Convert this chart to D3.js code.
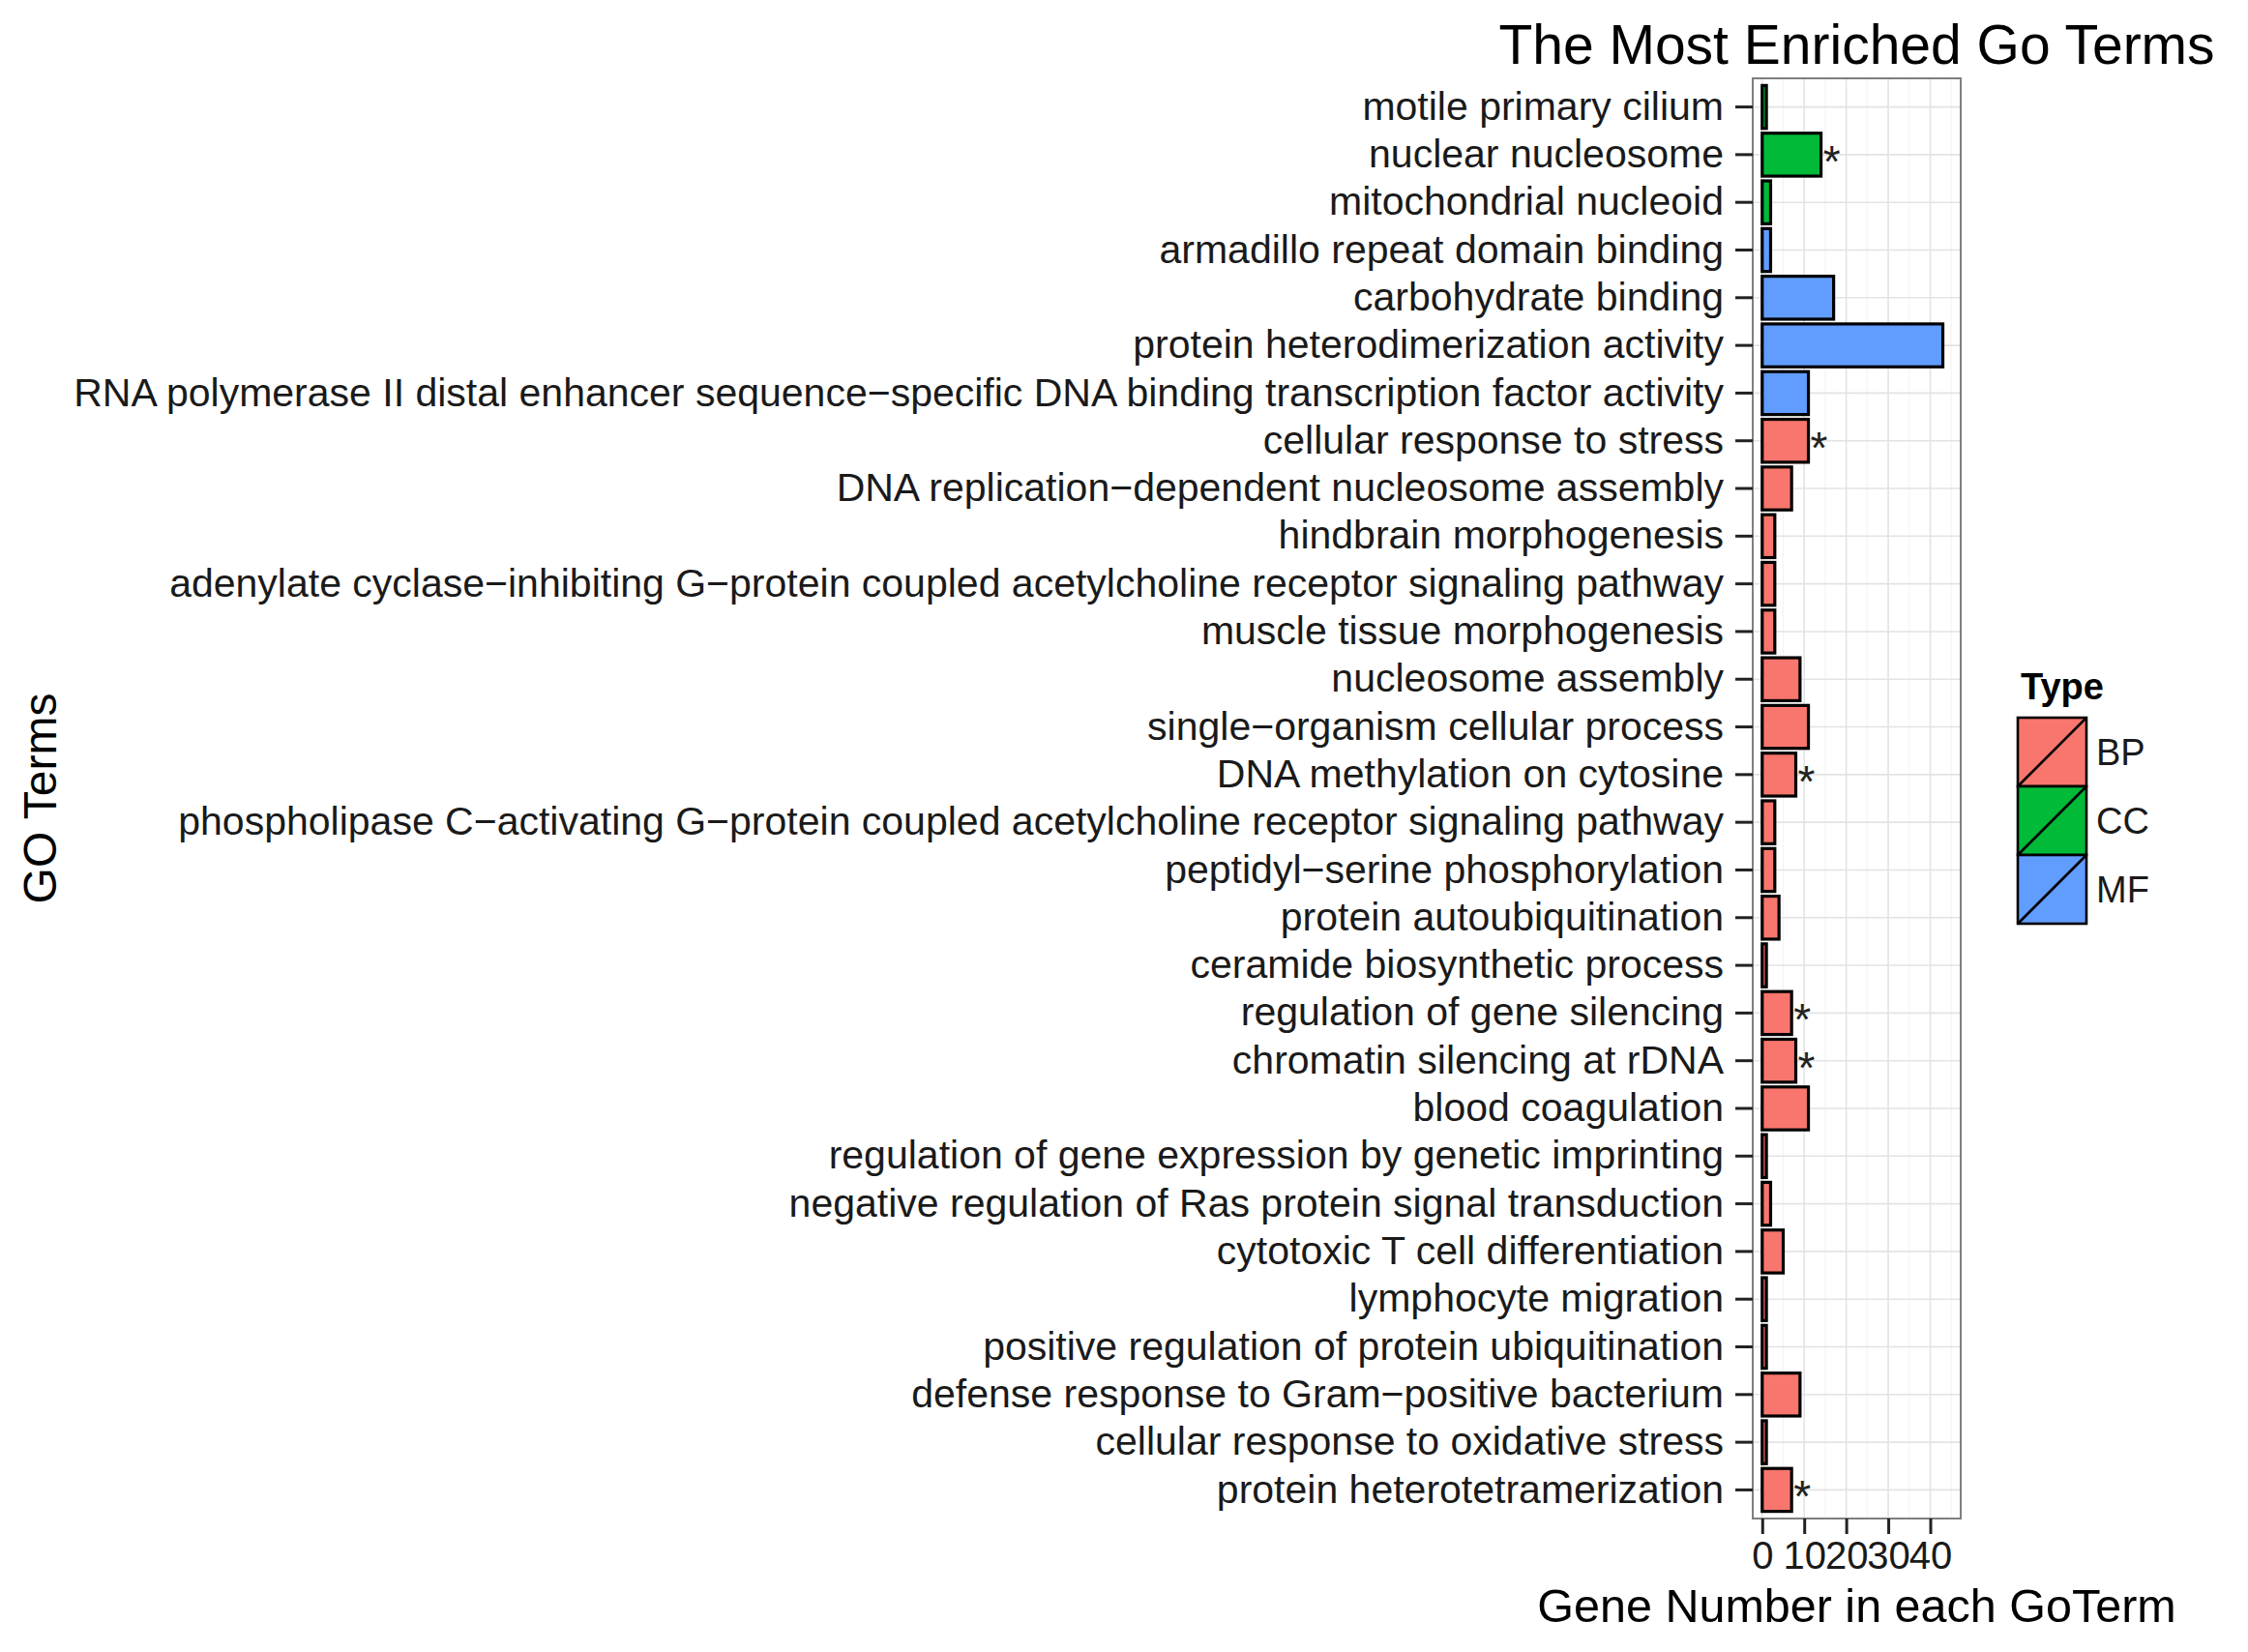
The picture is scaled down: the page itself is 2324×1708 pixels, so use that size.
<!DOCTYPE html>
<html>
<head>
<meta charset="utf-8">
<script src="https://cdn.jsdelivr.net/npm/d3@7"></script>
<style>
  html, body { margin: 0; padding: 0; background: #ffffff; }
  svg { display: block; }
  text { font-family: "Liberation Sans", Arial, Helvetica, sans-serif; }
</style>
</head>
<body>
<script>
// ---------------- data ----------------
const categories = [
  "motile primary cilium",
  "nuclear nucleosome",
  "mitochondrial nucleoid",
  "armadillo repeat domain binding",
  "carbohydrate binding",
  "protein heterodimerization activity",
  "RNA polymerase II distal enhancer sequence−specific DNA binding transcription factor activity",
  "cellular response to stress",
  "DNA replication−dependent nucleosome assembly",
  "hindbrain morphogenesis",
  "adenylate cyclase−inhibiting G−protein coupled acetylcholine receptor signaling pathway",
  "muscle tissue morphogenesis",
  "nucleosome assembly",
  "single−organism cellular process",
  "DNA methylation on cytosine",
  "phospholipase C−activating G−protein coupled acetylcholine receptor signaling pathway",
  "peptidyl−serine phosphorylation",
  "protein autoubiquitination",
  "ceramide biosynthetic process",
  "regulation of gene silencing",
  "chromatin silencing at rDNA",
  "blood coagulation",
  "regulation of gene expression by genetic imprinting",
  "negative regulation of Ras protein signal transduction",
  "cytotoxic T cell differentiation",
  "lymphocyte migration",
  "positive regulation of protein ubiquitination",
  "defense response to Gram−positive bacterium",
  "cellular response to oxidative stress",
  "protein heterotetramerization"
];
const geneCounts = [1, 14, 2, 2, 17, 43, 11, 11, 7, 3, 3, 3, 9, 11, 8, 3, 3, 4, 1, 7, 8, 11, 1, 2, 5, 1, 1, 9, 1, 7];
const types = ["CC","CC","CC","MF","MF","MF","MF","BP","BP","BP","BP","BP","BP","BP","BP","BP","BP","BP","BP","BP","BP","BP","BP","BP","BP","BP","BP","BP","BP","BP"];
const significant = [false,true,false,false,false,false,false,true,false,false,false,false,false,false,true,false,false,false,false,true,true,false,false,false,false,false,false,false,false,true];
const typeLevels = ["BP", "CC", "MF"];
const typeColors = ["#F8766D", "#00BA38", "#619CFF"];
const xTicks = [0, 10, 20, 30, 40];
const xMinor = [5, 15, 25, 35, 45];

const rows = categories.map((c, i) => ({ term: c, count: geneCounts[i], type: types[i], sig: significant[i] }));

// ---------------- layout ----------------
const W = 2324, H = 1708;
const panel = { left: 1812, right: 2027, top: 81, bottom: 1570 };

const svg = d3.select("body").append("svg").attr("width", W).attr("height", H);

const x = d3.scaleLinear().domain([-2.25, 47.25]).range([panel.left, panel.right]);
const y = d3.scaleBand().domain(categories).range([panel.top, panel.bottom])
  .paddingInner(0.1).paddingOuter(0.15);
const color = d3.scaleOrdinal().domain(typeLevels).range(typeColors);

// panel background
svg.append("rect")
  .attr("x", panel.left).attr("y", panel.top)
  .attr("width", panel.right - panel.left).attr("height", panel.bottom - panel.top)
  .attr("fill", "#ffffff");

// minor grid
svg.append("g").selectAll("line").data(xMinor).join("line")
  .attr("x1", d => x(d)).attr("x2", d => x(d))
  .attr("y1", panel.top).attr("y2", panel.bottom)
  .attr("stroke", "#f4f4f4").attr("stroke-width", 1.2);

// major grid vertical
svg.append("g").selectAll("line").data(xTicks).join("line")
  .attr("x1", d => x(d)).attr("x2", d => x(d))
  .attr("y1", panel.top).attr("y2", panel.bottom)
  .attr("stroke", "#e3e3e3").attr("stroke-width", 1.6);

// major grid horizontal
svg.append("g").selectAll("line").data(categories).join("line")
  .attr("x1", panel.left).attr("x2", panel.right)
  .attr("y1", d => y(d) + y.bandwidth() / 2).attr("y2", d => y(d) + y.bandwidth() / 2)
  .attr("stroke", "#e3e3e3").attr("stroke-width", 1.6);

// bars
svg.append("g").selectAll("rect").data(rows).join("rect")
  .attr("x", x(0))
  .attr("y", d => y(d.term))
  .attr("width", d => x(d.count) - x(0))
  .attr("height", y.bandwidth())
  .attr("fill", d => color(d.type))
  .attr("stroke", "#000000")
  .attr("stroke-width", 3.2);

// significance stars
svg.append("g").selectAll("text").data(rows.filter(d => d.sig)).join("text")
  .attr("x", d => x(d.count) + 11)
  .attr("y", d => y(d.term) + y.bandwidth() / 2 + 23)
  .attr("text-anchor", "middle")
  .attr("font-size", 46)
  .attr("fill", "#222222")
  .text("*");

// panel border
svg.append("rect")
  .attr("x", panel.left).attr("y", panel.top)
  .attr("width", panel.right - panel.left).attr("height", panel.bottom - panel.top)
  .attr("fill", "none").attr("stroke", "#7f7f7f").attr("stroke-width", 2);

// y axis
const yAxis = svg.append("g")
  .attr("transform", `translate(${panel.left},0)`)
  .call(d3.axisLeft(y).tickSize(18).tickPadding(12));
yAxis.select(".domain").remove();
yAxis.selectAll(".tick line").attr("stroke", "#222222").attr("stroke-width", 3);
yAxis.selectAll(".tick text")
  .attr("font-size", 41)
  .attr("fill", "#1a1a1a")
  .attr("font-family", "'Liberation Sans', Arial, sans-serif");

// x axis
const xAxis = svg.append("g")
  .attr("transform", `translate(0,${panel.bottom})`)
  .call(d3.axisBottom(x).tickValues(xTicks).tickSize(16).tickPadding(8).tickFormat(d3.format("d")));
xAxis.select(".domain").remove();
xAxis.selectAll(".tick line").attr("stroke", "#222222").attr("stroke-width", 3);
xAxis.selectAll(".tick text")
  .attr("font-size", 40)
  .attr("fill", "#1a1a1a")
  .attr("font-family", "'Liberation Sans', Arial, sans-serif");

// titles
const panelCx = (panel.left + panel.right) / 2;
svg.append("text")
  .attr("x", panelCx).attr("y", 66)
  .attr("text-anchor", "middle").attr("font-size", 57).attr("fill", "#000")
  .text("The Most Enriched Go Terms");

svg.append("text")
  .attr("x", panelCx).attr("y", 1677)
  .attr("text-anchor", "middle").attr("font-size", 48.5).attr("fill", "#000")
  .text("Gene Number in each GoTerm");

svg.append("text")
  .attr("transform", `translate(58,${(panel.top + panel.bottom) / 2}) rotate(-90)`)
  .attr("text-anchor", "middle").attr("font-size", 48).attr("fill", "#000")
  .text("GO Terms");

// legend
const lg = svg.append("g").attr("transform", "translate(2086,0)");
lg.append("text")
  .attr("x", 3).attr("y", 723)
  .attr("font-size", 38).attr("font-weight", "bold").attr("fill", "#000")
  .text("Type");
const keySize = 71;
const keyTop = 742;
const keys = lg.selectAll("g.key").data(typeLevels).join("g")
  .attr("class", "key")
  .attr("transform", (d, i) => `translate(0,${keyTop + i * keySize})`);
keys.append("rect")
  .attr("width", keySize).attr("height", keySize)
  .attr("fill", d => color(d)).attr("stroke", "#000").attr("stroke-width", 2.6);
keys.append("line")
  .attr("x1", 0).attr("y1", keySize).attr("x2", keySize).attr("y2", 0)
  .attr("stroke", "#000").attr("stroke-width", 2.6);
keys.append("text")
  .attr("x", keySize + 10).attr("y", keySize / 2 + 13)
  .attr("font-size", 38).attr("fill", "#1a1a1a")
  .text(d => d);
</script>
</body>
</html>
